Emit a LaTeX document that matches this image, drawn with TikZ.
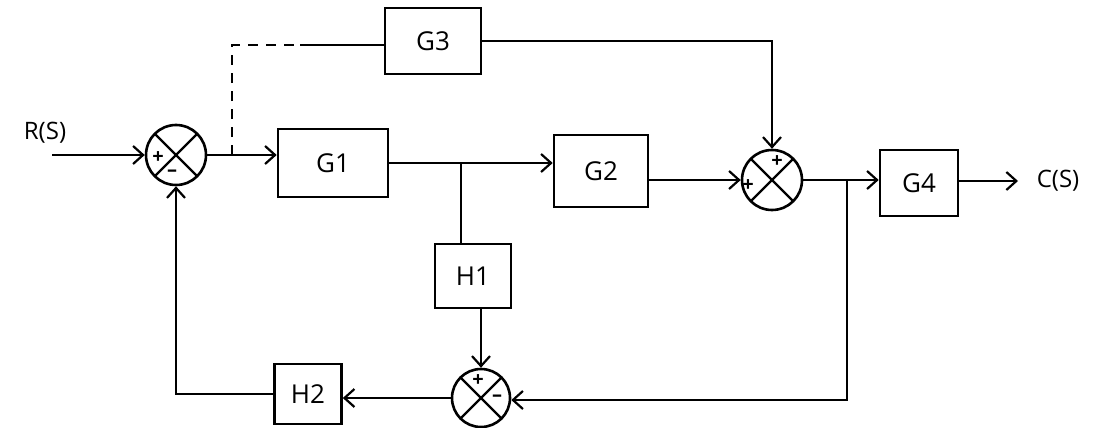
\documentclass[tikz,border=0pt]{standalone}
\usepackage{fontspec}
\setmainfont{Open Sans}
\usetikzlibrary{arrows.meta}
\begin{document}
\begin{tikzpicture}[x=1pt,y=-1pt,
  every path/.style={line width=2.4pt},
  blk/.style={draw,line width=2.6pt,inner sep=0pt,font=\fontsize{26}{28}\selectfont},
  sumj/.style={draw,circle,line width=2.6pt,inner sep=0pt,minimum size=#1,
    path picture={\draw[line width=2.2pt] (path picture bounding box.north west)--(path picture bounding box.south east)
      (path picture bounding box.north east)--(path picture bounding box.south west);}},
  sgn/.style={font=\fontsize{20}{20}\selectfont\bfseries,inner sep=0pt},
  arr/.style={-{Straight Barb[length=10pt,width=18pt,line width=2.2pt]}},
  lbl/.style={font=\fontsize{24}{26}\selectfont,inner sep=0pt}]
\useasboundingbox (0,0) rectangle (1097,428);
% blocks
\node[blk,minimum width=110pt,minimum height=68pt] (G1) at (333,163) {G1};
\node[blk,minimum width=96pt,minimum height=66pt] (G3) at (433,41) {G3};
\node[blk,minimum width=94pt,minimum height=72pt] (G2) at (601,171) {G2};
\node[blk,minimum width=78pt,minimum height=66pt] (G4) at (919,183) {G4};
\node[blk,minimum width=76pt,minimum height=64pt] (H1) at (473,276) {H1};
\node[blk,minimum width=67pt,minimum height=60pt] (H2) at (308,394) {H2};
% summing junctions
\node[sumj=60pt] (s1) at (176,155) {};
\node[sumj=60pt] (s2) at (772,180) {};
\node[sumj=58pt] (s3) at (481,398) {};
% signs
\node[sgn] (p1) at (158,158) {+};
\node[sgn] (m1) at (172,173) {--};
\node[sgn] (p2a) at (748,186) {+};
\node[sgn] (p2b) at (777,162) {+};
\node[sgn] (p3) at (478,381) {+};
\node[sgn] (m3) at (497,398) {--};
% labels
\node[lbl] (R) at (45,133) {R(S)};
\node[lbl] (C) at (1058,181) {C(S)};
% coordinates
\coordinate (in) at (52,155);
\coordinate (j1) at (232,155);
\coordinate (d1) at (232,45);
\coordinate (d2) at (300,45);
\coordinate (t1) at (772,41);
\coordinate (j2) at (461,163);
\coordinate (j3) at (847,180);
\coordinate (b3) at (847,400);
\coordinate (out) at (1018,181);
% connectors
\draw[arr] (in) -- (s1.west);
\draw[arr] (s1.east) -- (s1.east -| G1.west);
\draw[dashed,dash pattern=on 10pt off 8pt] (j1) -- (d1) -- (d2);
\draw (d2) -- (d2 -| G3.west);
\draw[arr] (G3.east) -- (t1) -- (s2.north);
\draw[arr] (G1.east) -- (G1.east -| G2.west);
\draw (j2) -- (j2 |- H1.north);
\draw[arr] (s3.north |- H1.south) -- (s3.north);
\draw[arr] (G2.east |- s2.west) -- (s2.west);
\draw[arr] (s2.east) -- (s2.east -| G4.west);
\draw[arr] (j3) -- (b3) -- (b3 -| s3.east);
\draw[arr] (G4.east |- out) -- (out);
\draw[arr] (s3.west) -- (s3.west -| H2.east);
\draw[arr] (H2.west) -| (s1.south);
\end{tikzpicture}
\end{document}
